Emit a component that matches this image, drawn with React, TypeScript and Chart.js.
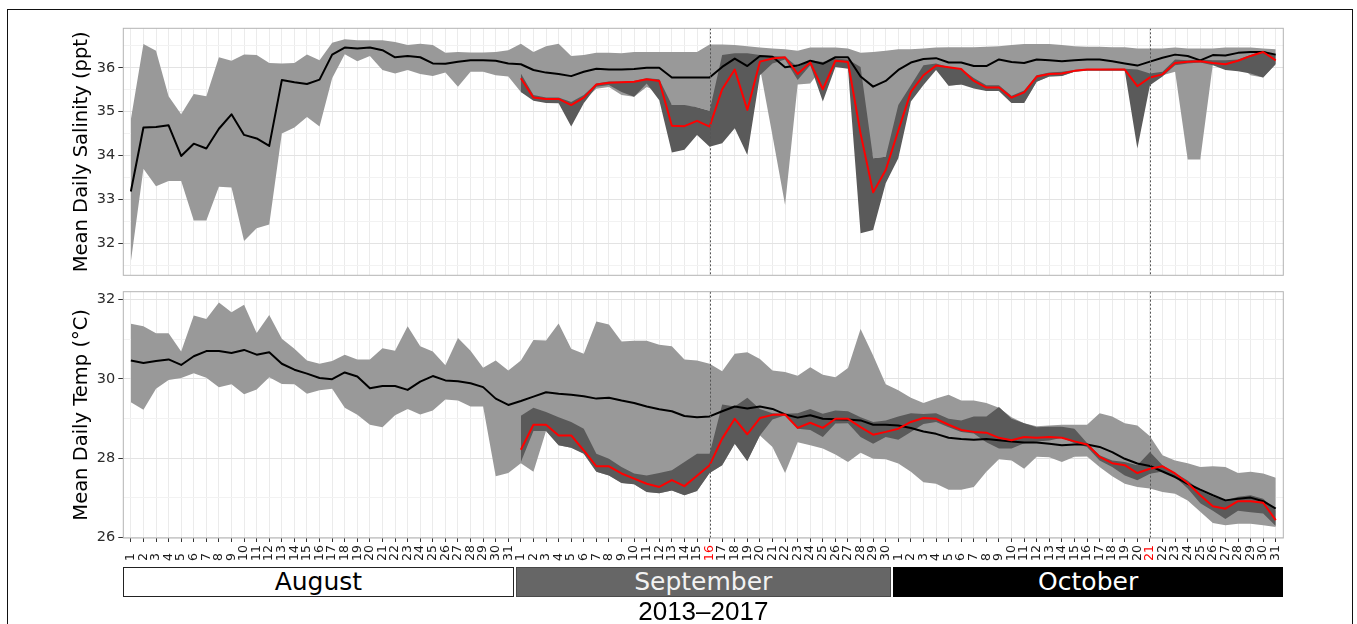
import React, { useEffect, useRef } from "react";
import { Chart, registerables } from "chart.js";

Chart.register(...registerables);
Chart.defaults.font.family = "'DejaVu Sans', sans-serif";

// ---------- categories / tick labels ----------
const monthNames = ["August", "September", "October"];
const monthDays = [31, 30, 31];
const dayLabels: string[] = monthDays.flatMap((n) => Array.from({ length: n }, (_, i) => String(i + 1)));
const highlightDays = [47, 82]; // Sep 16 and Oct 21 (counted from Aug 1)
const subsetStartDay = 32; // Sep 1
const yearLabel = "2013–2017";

// ---------- salinity (all years, Aug 1 - Oct 31) ----------
const salMean = [
  33.18, 34.64, 34.65, 34.69, 33.99, 34.27, 34.16, 34.61, 34.94, 34.47, 34.39, 34.22, 35.72, 35.67, 35.63, 35.73,
  36.3, 36.46, 36.44, 36.46, 36.4, 36.24, 36.27, 36.24, 36.1, 36.09, 36.14, 36.17, 36.17, 36.16, 36.1,
  36.08, 35.95, 35.89, 35.86, 35.81, 35.91, 35.98, 35.96, 35.96, 35.97, 36.0, 36.0, 35.78, 35.78, 35.78,
  35.78, 36.02, 36.21, 36.04, 36.27, 36.25, 36.01, 36.05, 36.16, 36.09, 36.24, 36.24, 35.8, 35.57, 35.7,
  35.95, 36.12, 36.2, 36.22, 36.12, 36.12, 36.04, 36.04, 36.19, 36.13, 36.11, 36.19, 36.17, 36.15, 36.17,
  36.19, 36.19, 36.15, 36.1, 36.05, 36.14, 36.23, 36.3, 36.27, 36.17, 36.29, 36.28, 36.34, 36.36, 36.36, 36.3,
];
const salMax = [
  34.82, 36.54, 36.39, 35.35, 34.94, 35.4, 35.35, 36.24, 36.16, 36.3, 36.29, 36.11, 36.1, 36.11, 36.3, 36.17,
  36.57, 36.65, 36.63, 36.63, 36.63, 36.59, 36.52, 36.55, 36.52, 36.34, 36.36, 36.35, 36.35, 36.36, 36.4,
  36.55, 36.36, 36.49, 36.55, 36.27, 36.29, 36.34, 36.34, 36.33, 36.36, 36.36, 36.36, 36.36, 36.36, 36.36,
  36.53, 36.53, 36.52, 36.49, 36.46, 36.44, 36.42, 36.39, 36.46, 36.46, 36.46, 36.44, 36.34, 36.36, 36.39,
  36.42, 36.42, 36.44, 36.46, 36.47, 36.47, 36.47, 36.48, 36.49, 36.52, 36.54, 36.54, 36.54, 36.52, 36.49,
  36.48, 36.48, 36.47, 36.47, 36.44, 36.44, 36.44, 36.46, 36.44, 36.44, 36.44, 36.46, 36.46, 36.46, 36.44, 36.42,
];
const salMin = [
  31.58, 33.7, 33.3, 33.42, 33.42, 32.52, 32.52, 33.29, 33.27, 32.05, 32.34, 32.43, 34.5, 34.64, 34.88, 34.66,
  35.76, 36.31, 36.15, 36.27, 35.95, 35.87, 35.95, 35.86, 35.81, 35.89, 35.57, 35.91, 35.91, 35.83, 35.8,
  35.45, 35.3, 35.22, 35.2, 35.19, 35.26, 35.52, 35.56, 35.38, 35.34, 35.56, 35.45, 35.15, 35.13, 35.1,
  35.02, 35.9, 35.9, 35.9, 36.0, 34.45, 32.87, 35.62, 35.64, 36.02, 36.02, 36.02, 35.11, 33.94, 33.97,
  34.6, 35.4, 35.8, 35.98, 35.59, 35.62, 35.62, 35.47, 35.47, 35.2, 35.2, 35.68, 35.8, 35.81, 35.91,
  35.95, 35.95, 35.95, 35.95, 35.7, 35.75, 35.83, 35.91, 33.91, 33.91, 36.08, 36.08, 36.08, 35.83, 35.78, 36.1,
];

// ---------- salinity (2013-2017, Sep 1 - Oct 31) ----------
const salSubMean = [
  35.76, 35.32, 35.29, 35.29, 35.15, 35.32, 35.62, 35.66, 35.67, 35.68, 35.74, 35.7, 34.68, 34.67, 34.79,
  34.66, 35.51, 35.96, 35.04, 36.14, 36.21, 36.24, 35.86, 36.12, 35.51, 36.16, 36.13, 34.5, 33.16, 33.67,
  34.57, 35.45, 35.83, 36.05, 36.01, 35.97, 35.7, 35.55, 35.55, 35.32, 35.44, 35.8, 35.86, 35.87, 35.93,
  35.96, 35.96, 35.96, 35.96, 35.58, 35.78, 35.85, 36.11, 36.14, 36.15, 36.11, 36.08, 36.16, 36.27, 36.36, 36.17,
];
const salSubMax = [
  35.87, 35.38, 35.32, 35.32, 35.22, 35.38, 35.64, 35.69, 35.69, 35.7, 35.76, 35.74, 35.15, 35.15, 35.1,
  35.02, 36.29, 36.33, 36.33, 36.29, 36.27, 36.25, 36.02, 36.17, 36.13, 36.21, 36.19, 36.02, 33.94, 33.97,
  35.15, 35.6, 36.06, 36.1, 36.02, 35.98, 35.77, 35.6, 35.6, 35.36, 35.48, 35.83, 35.89, 35.91, 35.95,
  35.97, 35.97, 35.98, 35.98, 35.96, 35.87, 35.91, 36.19, 36.17, 36.19, 36.17, 36.17, 36.19, 36.29, 36.39, 36.29,
];
const salSubMin = [
  35.45, 35.25, 35.2, 35.19, 34.66, 35.19, 35.57, 35.61, 35.45, 35.34, 35.64, 35.26, 34.07, 34.13, 34.47,
  34.2, 34.28, 34.62, 34.01, 35.83, 36.1, 36.19, 35.72, 36.06, 35.23, 36.02, 35.98, 32.23, 32.3, 33.37,
  33.94, 35.23, 35.61, 35.95, 35.59, 35.62, 35.53, 35.47, 35.47, 35.2, 35.2, 35.68, 35.8, 35.81, 35.91,
  35.93, 35.93, 35.93, 35.93, 34.16, 35.6, 35.8, 36.06, 36.1, 36.12, 36.06, 35.95, 35.92, 35.87, 35.78, 36.08,
];

// ---------- temperature (all years, Aug 1 - Oct 31) ----------
const tempMean = [
  30.46, 30.4, 30.45, 30.49, 30.35, 30.57, 30.7, 30.7, 30.65, 30.73, 30.61, 30.67, 30.38, 30.23, 30.13, 30.02,
  29.99, 30.16, 30.06, 29.76, 29.82, 29.82, 29.72, 29.93, 30.07, 29.96, 29.94, 29.89, 29.79, 29.5, 29.34,
  29.44, 29.55, 29.66, 29.62, 29.6, 29.56, 29.5, 29.52, 29.45, 29.39, 29.3, 29.23, 29.18, 29.06, 29.03,
  29.05, 29.18, 29.3, 29.25, 29.3, 29.24, 29.1, 29.02, 29.08, 28.99, 28.98, 28.97, 28.95, 28.84, 28.84,
  28.82, 28.76, 28.67, 28.61, 28.51, 28.48, 28.46, 28.48, 28.45, 28.42, 28.39, 28.39, 28.36, 28.32, 28.34,
  28.34, 28.28, 28.15, 27.98, 27.86, 27.8, 27.66, 27.52, 27.35, 27.2, 27.06, 26.93, 26.97, 27.0, 26.91, 26.72,
];
const tempMax = [
  31.39, 31.33, 31.15, 31.15, 30.69, 31.6, 31.51, 31.93, 31.68, 31.87, 31.16, 31.61, 31.01, 30.76, 30.46, 30.38,
  30.45, 30.61, 30.49, 30.49, 30.77, 30.71, 31.33, 30.82, 30.69, 30.34, 31.03, 30.71, 30.28, 30.46, 30.21,
  30.46, 30.98, 30.97, 31.4, 30.76, 30.63, 31.45, 31.37, 30.94, 30.96, 30.96, 30.86, 30.82, 30.49, 30.46,
  30.38, 30.19, 30.63, 30.67, 30.5, 30.21, 30.17, 30.08, 30.29, 30.1, 30.04, 30.27, 31.26, 30.59, 29.86,
  29.71, 29.52, 29.39, 29.5, 29.6, 29.45, 29.45, 29.39, 29.27, 29.03, 28.88, 28.8, 28.82, 28.84, 28.84,
  28.84, 29.13, 29.05, 28.88, 28.82, 28.55, 28.07, 27.94, 27.87, 27.77, 27.79, 27.77, 27.62, 27.65, 27.61, 27.5,
];
const tempMin = [
  29.41, 29.22, 29.75, 29.97, 30.02, 30.14, 30.03, 29.79, 29.86, 29.61, 29.73, 30.04, 29.87, 29.86, 29.62, 29.71,
  29.75, 29.27, 29.09, 28.84, 28.78, 29.08, 29.24, 29.1, 29.2, 29.48, 29.45, 29.3, 29.3, 27.54, 27.62,
  27.87, 27.65, 28.68, 28.32, 28.26, 28.11, 27.65, 27.56, 27.37, 27.34, 27.14, 27.11, 27.18, 27.06, 27.17,
  27.62, 27.82, 28.36, 27.94, 28.57, 28.28, 27.62, 28.4, 28.32, 28.24, 28.09, 27.9, 28.13, 27.98, 27.97,
  27.86, 27.65, 27.39, 27.35, 27.2, 27.2, 27.27, 27.65, 27.97, 27.94, 27.73, 28.03, 28.02, 27.9, 28.03,
  28.04, 27.77, 27.54, 27.35, 27.27, 27.23, 27.14, 27.1, 26.93, 26.64, 26.36, 26.3, 26.34, 26.34, 26.3, 26.26,
];

// ---------- temperature (2013-2017, Sep 1 - Oct 31) ----------
const tempSubMean = [
  28.21, 28.84, 28.84, 28.57, 28.57, 28.19, 27.79, 27.79, 27.61, 27.48, 27.35, 27.27, 27.44, 27.29, 27.55,
  27.82, 28.49, 28.99, 28.6, 29.01, 29.09, 29.1, 28.76, 28.89, 28.76, 28.99, 28.99, 28.78, 28.59, 28.66,
  28.74, 28.91, 29.01, 28.99, 28.84, 28.71, 28.66, 28.64, 28.51, 28.45, 28.53, 28.51, 28.53, 28.51, 28.42,
  28.34, 28.03, 27.87, 27.82, 27.62, 27.73, 27.79, 27.61, 27.37, 27.06, 26.78, 26.72, 26.91, 26.91, 26.87, 26.43,
];
const tempSubMax = [
  29.07, 29.27, 29.16, 29.03, 28.91, 28.74, 28.11, 27.98, 27.77, 27.61, 27.56, 27.62, 27.69, 27.9, 28.11,
  28.11, 29.35, 29.3, 29.52, 29.24, 29.13, 29.12, 29.13, 29.24, 29.12, 29.2, 29.18, 29.03, 28.91, 28.95,
  29.05, 29.13, 29.11, 29.13, 28.99, 28.95, 29.05, 29.05, 29.29, 28.99, 28.88, 28.78, 28.79, 28.79, 28.74,
  28.38, 28.07, 27.94, 27.9, 27.82, 28.15, 27.82, 27.62, 27.43, 27.18, 27.02, 26.93, 27.02, 27.06, 26.97, 26.68,
];
const tempSubMin = [
  27.9, 28.68, 28.68, 28.32, 28.26, 28.11, 27.65, 27.56, 27.37, 27.34, 27.14, 27.11, 27.18, 27.06, 27.17,
  27.62, 27.82, 28.36, 27.92, 28.57, 28.97, 29.08, 28.74, 28.71, 28.53, 28.87, 28.88, 28.53, 28.36, 28.53,
  28.46, 28.66, 28.86, 28.91, 28.78, 28.66, 28.62, 28.4, 28.24, 28.24, 28.37, 28.42, 28.44, 28.51, 28.37,
  28.28, 27.94, 27.77, 27.56, 27.44, 27.6, 27.66, 27.52, 27.23, 26.86, 26.67, 26.46, 26.67, 26.63, 26.6, 26.28,
];

// ---------- axis ticks ----------
const salGrid = [31.5, 32, 32.5, 33, 33.5, 34, 34.5, 35, 35.5, 36, 36.5];
const salLabels = [32, 33, 34, 35, 36];
const tempGrid = [26, 27, 28, 29, 30, 31, 32];
const tempLabels = [26, 28, 30, 32];

// ---------- layout / style ----------
const W = 1357;
const PAD_LEFT = 70;
const PLOT_LEFT = 123.3;
const PLOT_RIGHT = 1283.3;
const X_MIN = 0.4;
const X_MAX = 92.6;
const LIGHT = "#999999";
const DARK = "#5a5a5a";
const CLEAR = "rgba(0,0,0,0)";

const decorPlugin = {
  id: "panelDecor",
  afterDatasetsDraw(chart: any) {
    const { ctx, chartArea: a, scales } = chart;
    const x = scales.x;
    ctx.save();
    ctx.strokeStyle = "#555555";
    ctx.lineWidth = 1;
    ctx.setLineDash([2, 2]);
    highlightDays.forEach((d) => {
      const px = Math.round(x.getPixelForValue(d)) + 0.5;
      ctx.beginPath();
      ctx.moveTo(px, a.top);
      ctx.lineTo(px, a.bottom);
      ctx.stroke();
    });
    ctx.setLineDash([]);
    ctx.strokeStyle = "#b3b3b3";
    ctx.strokeRect(a.left, a.top, a.right - a.left, a.bottom - a.top);
    ctx.restore();
  },
};

type PanelProps = {
  top: number;
  height: number;
  padTop: number;
  axisHeight: number;
  yMin: number;
  yMax: number;
  yGrid: number[];
  yLabels: number[];
  title: string;
  mean: number[];
  max: number[];
  min: number[];
  subMean: number[];
  subMax: number[];
  subMin: number[];
  showX: boolean;
};

function Panel(p: PanelProps) {
  const ref = useRef<HTMLCanvasElement>(null);
  useEffect(() => {
    if (!ref.current) return;
    const pts = (arr: number[], start: number) => arr.map((v, i) => ({ x: start + i, y: v }));
    const band = { borderColor: CLEAR, borderWidth: 0, pointRadius: 0 };
    const chart = new Chart(ref.current, {
      type: "line",
      data: {
        datasets: [
          { data: pts(p.subMean, subsetStartDay), borderColor: "#ff0000", borderWidth: 2, fill: false, order: 0 },
          { data: pts(p.mean, 1), borderColor: "#000000", borderWidth: 2, fill: false, order: 1 },
          { data: pts(p.subMax, subsetStartDay), ...band, backgroundColor: DARK, fill: 3, order: 2 },
          { data: pts(p.subMin, subsetStartDay), ...band, fill: false, order: 3 },
          { data: pts(p.max, 1), ...band, backgroundColor: LIGHT, fill: 5, order: 4 },
          { data: pts(p.min, 1), ...band, fill: false, order: 5 },
        ] as any,
      },
      options: {
        animation: false,
        responsive: true,
        maintainAspectRatio: false,
        events: [],
        elements: { point: { radius: 0, hoverRadius: 0 }, line: { tension: 0, borderJoinStyle: "round" } },
        layout: { padding: { left: PAD_LEFT, top: p.padTop, right: W - PLOT_RIGHT, bottom: 0 } },
        plugins: { legend: { display: false }, tooltip: { enabled: false } },
        scales: {
          x: {
            type: "linear",
            min: X_MIN,
            max: X_MAX,
            afterBuildTicks: (s: any) => {
              s.ticks = dayLabels.map((_, i) => ({ value: i + 1 }));
            },
            afterFit: (s: any) => {
              s.height = p.axisHeight;
            },
            border: { display: false },
            grid: {
              color: "#ebebeb",
              lineWidth: 1,
              drawTicks: p.showX,
              tickLength: 4,
              tickColor: "#333333",
            },
            ticks: {
              display: p.showX,
              autoSkip: false,
              minRotation: 90,
              maxRotation: 90,
              padding: 3,
              font: { size: 12.5 },
              color: (ctx: any) => (highlightDays.includes(ctx.tick?.value) ? "#ff0000" : "#1a1a1a"),
              callback: (v: any) => {
                const s = dayLabels[Math.round(Number(v)) - 1] || "";
                return s.length === 1 ? s + "\u2007" : s;
              },
            },
          },
          y: {
            type: "linear",
            min: p.yMin,
            max: p.yMax,
            afterBuildTicks: (s: any) => {
              s.ticks = p.yGrid.map((v) => ({ value: v }));
            },
            afterFit: (s: any) => {
              s.width = PLOT_LEFT - PAD_LEFT;
            },
            border: { display: false },
            grid: {
              color: (ctx: any) => (p.yLabels.includes(ctx.tick?.value) ? "#e3e3e3" : "#f2f2f2"),
              tickLength: 5,
              tickColor: (ctx: any) => (p.yLabels.includes(ctx.tick?.value) ? "#333333" : CLEAR),
            },
            ticks: {
              padding: 3,
              font: { size: 14.5 },
              color: "#2b2b2b",
              callback: (v: any) => (p.yLabels.includes(Number(v)) ? String(v) : ""),
            },
            title: {
              display: true,
              text: p.title,
              color: "#000000",
              font: { size: 19.5 },
              padding: 0,
            },
          },
        },
      } as any,
      plugins: [decorPlugin],
    });
    return () => chart.destroy();
  }, []);
  return (
    <div style={{ position: "absolute", left: 0, top: p.top, width: W, height: p.height }}>
      <canvas ref={ref} />
    </div>
  );
}

export default function App() {
  const px = (d: number) => PLOT_LEFT + ((d - X_MIN) * (PLOT_RIGHT - PLOT_LEFT)) / (X_MAX - X_MIN);
  const monthStyles = [
    { bg: "#ffffff", fg: "#000000", border: "#222222" },
    { bg: "#666666", fg: "#f2f2f2", border: "#4a4a4a" },
    { bg: "#000000", fg: "#ffffff", border: "#000000" },
  ];
  let startDay = 0.5;
  const boxes = monthNames.map((name, i) => {
    const s = startDay;
    const e = s + monthDays[i];
    startDay = e;
    const left = i === 0 ? PLOT_LEFT : px(s) + 1;
    const right = i === monthNames.length - 1 ? PLOT_RIGHT : px(e) - 1;
    return { name, left, width: right - left, st: monthStyles[i] };
  });

  return (
    <div
      style={{
        position: "absolute",
        left: 0,
        top: 0,
        width: W,
        height: 624,
        overflow: "hidden",
        background: "#ffffff",
      }}
    >
      <div
        style={{
          position: "absolute",
          left: 7,
          top: 9,
          width: 1346,
          height: 700,
          boxSizing: "border-box",
          borderLeft: "1.5px solid #111",
          borderTop: "1.5px solid #111",
          borderRight: "1.5px solid #111",
        }}
      />
      <Panel
        top={0}
        height={290}
        padTop={28.3}
        axisHeight={290 - 275.3}
        yMin={31.27}
        yMax={36.9}
        yGrid={salGrid}
        yLabels={salLabels}
        title="Mean Daily Salinity (ppt)"
        mean={salMean}
        max={salMax}
        min={salMin}
        subMean={salSubMean}
        subMax={salSubMax}
        subMin={salSubMin}
        showX={false}
      />
      <Panel
        top={280}
        height={344}
        padTop={11}
        axisHeight={86}
        yMin={25.98}
        yMax={32.2}
        yGrid={tempGrid}
        yLabels={tempLabels}
        title="Mean Daily Temp (°C)"
        mean={tempMean}
        max={tempMax}
        min={tempMin}
        subMean={tempSubMean}
        subMax={tempSubMax}
        subMin={tempSubMin}
        showX={true}
      />
      {boxes.map((b) => (
        <div
          key={b.name}
          style={{
            position: "absolute",
            left: b.left,
            top: 567,
            width: b.width,
            height: 30,
            boxSizing: "border-box",
            background: b.st.bg,
            border: `1.5px solid ${b.st.border}`,
            color: b.st.fg,
            fontFamily: "'DejaVu Sans', sans-serif",
            fontSize: 25,
            lineHeight: "27px",
            textAlign: "center",
          }}
        >
          {b.name}
        </div>
      ))}
      <div
        style={{
          position: "absolute",
          left: PLOT_LEFT,
          width: PLOT_RIGHT - PLOT_LEFT,
          top: 598,
          height: 26,
          lineHeight: "26px",
          textAlign: "center",
          fontFamily: "'Liberation Sans', Arial, sans-serif",
          fontSize: 26,
          color: "#000",
        }}
      >
        {yearLabel}
      </div>
    </div>
  );
}
